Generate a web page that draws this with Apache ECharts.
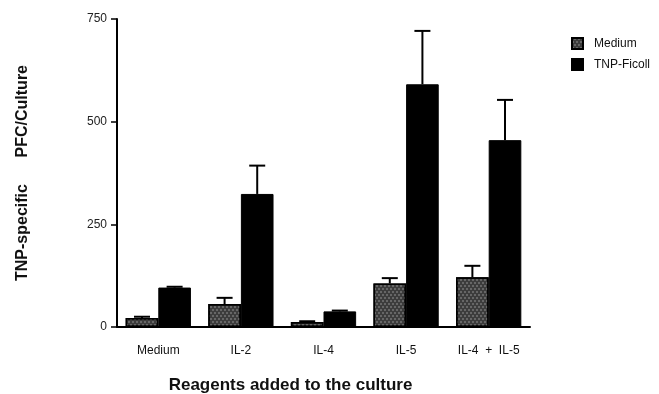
<!DOCTYPE html>
<html>
<head>
<meta charset="utf-8">
<script src="https://cdn.jsdelivr.net/npm/echarts@6/dist/echarts.min.js"></script>
<style>
  html, body { margin: 0; padding: 0; background: #fff; }
  #chart { width: 659px; height: 394px; }
</style>
</head>
<body>
<div id="chart"></div>
<script>
// Reagents added to each culture
var categories = ['Medium', 'IL-2', 'IL-4', 'IL-5', 'IL-4  +  IL-5'];
// Mean TNP-specific PFC per culture, with upward error (SE)
var mediumValues = [22, 56, 12, 106, 121];
var mediumErrors = [3, 15, 2, 13, 28];
var ficollValues = [96, 324, 38, 591, 455];
var ficollErrors = [2, 69, 2, 130, 98];
var yTicks = [0, 250, 500, 750];

var FONT = 'Liberation Sans, Arial, Helvetica, sans-serif';

// Error whiskers drawn above each bar; side = -1 left bar, +1 right bar
function errorSeries(name, values, errors, side) {
  var data = values.map(function (v, i) { return [i, v, v + errors[i]]; });
  return {
    type: 'custom',
    name: name + ' error',
    z: 5,
    silent: true,
    legendHoverLink: false,
    data: data,
    renderItem: function (params, api) {
      var band = api.size([1, 0])[0];
      var barW = band * 0.79 / 2;
      var base = api.coord([api.value(0), api.value(1)]);
      var top = api.coord([api.value(0), api.value(2)]);
      var x = base[0] + side * barW / 2;
      var capHalf = 8;
      var style = { stroke: '#000', lineWidth: 2 };
      return {
        type: 'group',
        children: [
          { type: 'line', shape: { x1: x, y1: base[1], x2: x, y2: top[1] }, style: style },
          { type: 'line', shape: { x1: x - capHalf, y1: top[1], x2: x + capHalf, y2: top[1] }, style: style }
        ]
      };
    }
  };
}

var chart = echarts.init(document.getElementById('chart'), null, { renderer: 'canvas' });
chart.setOption({
  animation: false,
  backgroundColor: '#fff',
  textStyle: { fontFamily: FONT },
  grid: { left: 117, right: 129, top: 19, bottom: 67, containLabel: false, outerBoundsMode: 'none' },
  legend: {
    orient: 'vertical',
    left: 566,
    top: 32,
    itemWidth: 11,
    itemHeight: 11,
    itemGap: 8,
    icon: 'rect',
    data: ['Medium', 'TNP-Ficoll'],
    textStyle: { fontFamily: FONT, fontSize: 12, color: '#111', padding: [0, 0, 0, 6] }
  },
  xAxis: {
    type: 'category',
    data: categories,
    name: 'Reagents added to the culture',
    nameLocation: 'middle',
    nameGap: 50,
    nameTextStyle: {
      fontFamily: FONT, fontSize: 17, fontWeight: 'bold', color: '#111',
      padding: [0, 66, 0, 0]
    },
    axisLine: { lineStyle: { color: '#000', width: 2 } },
    axisTick: { show: false },
    axisLabel: { fontFamily: FONT, fontSize: 12, color: '#111', margin: 18 }
  },
  yAxis: {
    type: 'value',
    min: 0,
    max: 750,
    interval: 250,
    name: 'TNP-specific      PFC/Culture',
    nameLocation: 'middle',
    nameGap: 86,
    nameTextStyle: { fontFamily: FONT, fontSize: 16, fontWeight: 'bold', color: '#111' },
    axisLine: { show: true, lineStyle: { color: '#000', width: 2 } },
    axisTick: { show: true, length: 6, lineStyle: { color: '#000', width: 1.5 } },
    splitLine: { show: false },
    axisLabel: {
      fontFamily: FONT, fontSize: 12, color: '#222', margin: 10,
      formatter: function (v) { return yTicks.indexOf(v) >= 0 ? String(v) : ''; }
    }
  },
  series: [
    {
      name: 'Medium',
      type: 'bar',
      data: mediumValues,
      barGap: '0%',
      barCategoryGap: '21%',
      itemStyle: {
        color: '#3c3c3c',
        borderColor: '#000',
        borderWidth: 1.5,
        decal: {
          symbol: 'rect',
          symbolSize: 0.7,
          color: 'rgba(210,210,210,0.55)',
          dashArrayX: [[2, 2], [0, 2, 2, 0]],
          dashArrayY: [2, 1],
          rotation: 0
        }
      }
    },
    {
      name: 'TNP-Ficoll',
      type: 'bar',
      data: ficollValues,
      barGap: '0%',
      barCategoryGap: '21%',
      itemStyle: { color: '#000', borderColor: '#000', borderWidth: 1 }
    },
    errorSeries('Medium', mediumValues, mediumErrors, -1),
    errorSeries('TNP-Ficoll', ficollValues, ficollErrors, 1)
  ]
});
</script>
</body>
</html>
